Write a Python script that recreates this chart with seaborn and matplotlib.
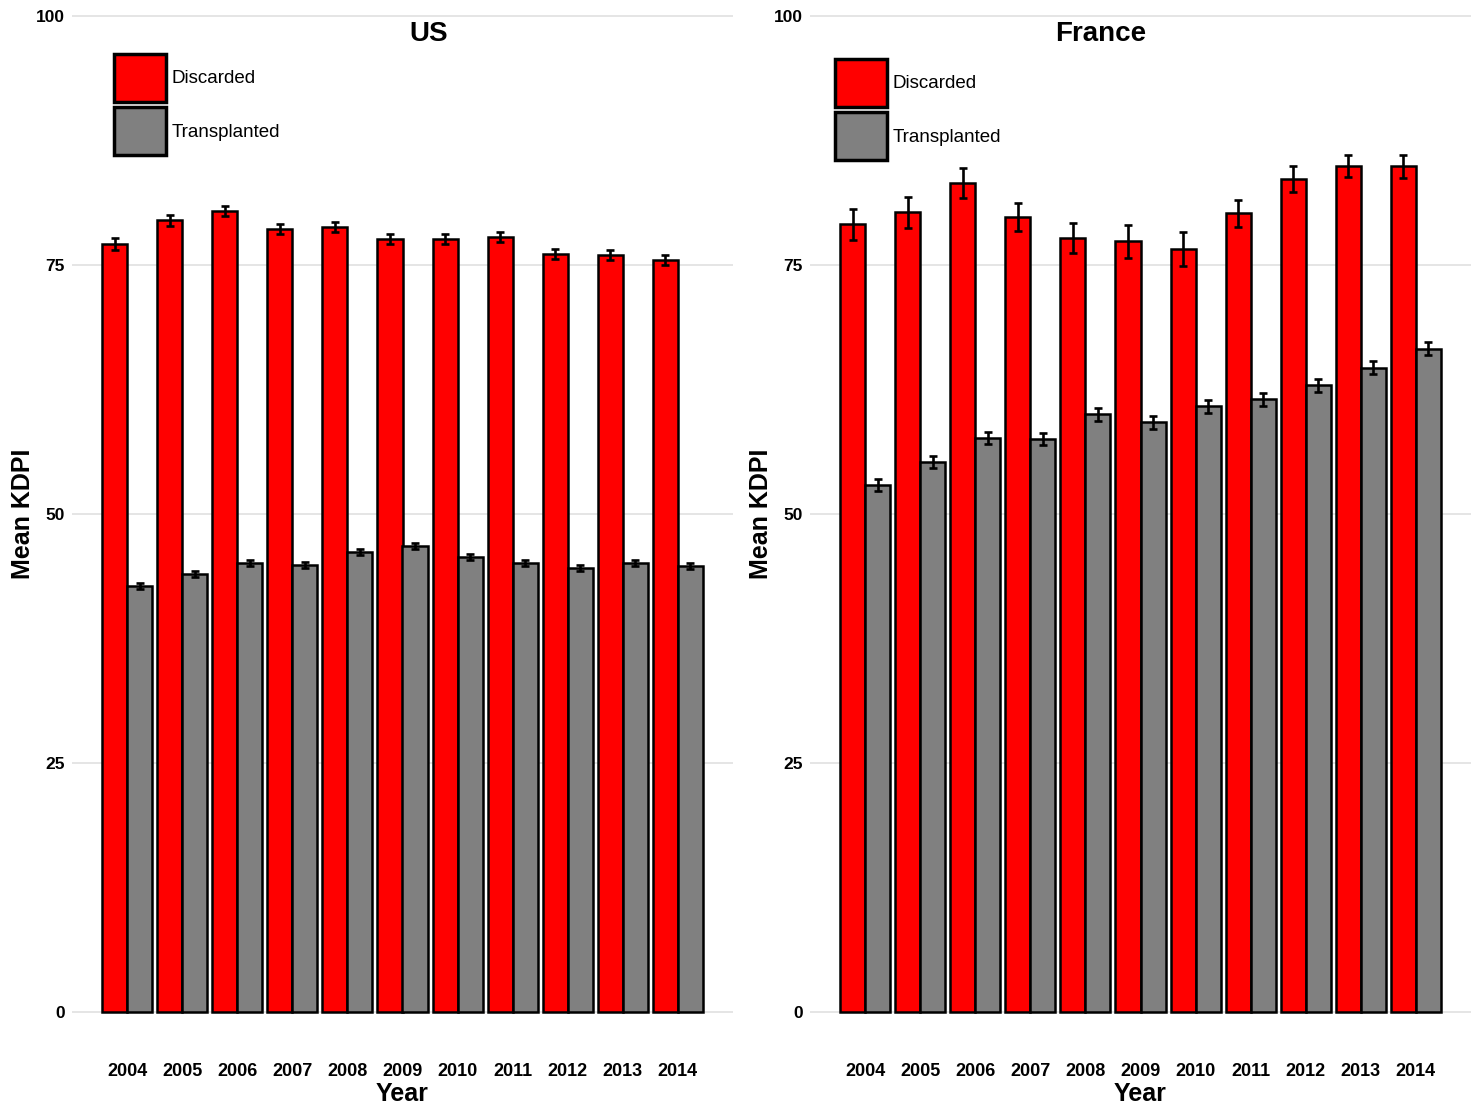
import numpy as np
import pandas as pd
import matplotlib
matplotlib.use("Agg")
import matplotlib.pyplot as plt
from matplotlib.patches import Patch
import seaborn as sns

YEARS = ['2004', '2005', '2006', '2007', '2008', '2009',
         '2010', '2011', '2012', '2013', '2014']
GROUPS = ['Discarded', 'Transplanted']
COLORS = {'Discarded': '#ff0000', 'Transplanted': '#808080'}

# US mean KDPI
us_discarded = [77.1, 79.5, 80.4, 78.6, 78.8, 77.6, 77.6, 77.8, 76.1, 76.0, 75.5]
us_discarded_err = [0.57, 0.55, 0.52, 0.53, 0.53, 0.52, 0.52, 0.50, 0.52, 0.53, 0.52]
us_transplanted = [42.8, 44.0, 45.1, 44.9, 46.2, 46.8, 45.7, 45.1, 44.6, 45.1, 44.8]
us_transplanted_err = [0.30, 0.30, 0.30, 0.30, 0.30, 0.30, 0.30, 0.30, 0.30, 0.30, 0.30]

# France mean KDPI
fr_discarded = [79.1, 80.3, 83.2, 79.8, 77.7, 77.4, 76.6, 80.2, 83.6, 84.9, 84.9]
fr_discarded_err = [1.57, 1.57, 1.49, 1.40, 1.49, 1.65, 1.69, 1.37, 1.32, 1.10, 1.19]
fr_transplanted = [52.9, 55.2, 57.6, 57.5, 60.0, 59.2, 60.8, 61.5, 62.9, 64.7, 66.6]
fr_transplanted_err = [0.64, 0.62, 0.62, 0.62, 0.62, 0.62, 0.67, 0.64, 0.64, 0.62, 0.64]

W, H = 1477, 1106


def draw_panel(fig, rect, disc, trans, disc_err, trans_err, title, title_x, legend_xy):
    ax = fig.add_axes(rect)
    df = pd.DataFrame({
        'year': YEARS * 2,
        'kdpi': disc + trans,
        'group': ['Discarded'] * len(YEARS) + ['Transplanted'] * len(YEARS),
    })
    sns.barplot(data=df, x='year', y='kdpi', hue='group', order=YEARS,
                hue_order=GROUPS, palette=COLORS, width=0.91, gap=0,
                errorbar=None, edgecolor='black', linewidth=1.8,
                saturation=1, legend=False, ax=ax, zorder=3)

    # error bars at the centre of each drawn bar
    for cont, err in zip(ax.containers, [disc_err, trans_err]):
        xs = [b.get_x() + b.get_width() / 2 for b in cont]
        ys = [b.get_height() for b in cont]
        ax.errorbar(xs, ys, yerr=err, fmt='none', ecolor='black',
                    elinewidth=1.9, capsize=3, capthick=1.9, zorder=5)

    ax.set_xlim(-1, 11)
    ax.set_ylim(-4.32, 100.4)
    ax.set_yticks([0, 25, 50, 75, 100])
    ax.yaxis.grid(True, color='#e3e3e3', lw=1.3, zorder=0)
    ax.xaxis.grid(False)
    sns.despine(ax=ax, left=True, bottom=True)
    ax.tick_params(axis='both', length=3, width=0.8, color='#999999',
                   labelcolor='black')
    ax.tick_params(axis='y', labelsize=12.5, pad=2)
    ax.tick_params(axis='x', labelsize=13, pad=3)
    for lab in ax.get_yticklabels() + ax.get_xticklabels():
        lab.set_fontweight('bold')

    ax.set_ylabel('Mean KDPI', fontsize=18, fontweight='bold', va='center',
                  color='black')
    ax.yaxis.set_label_coords(-0.074, 0.519)
    ax.set_xlabel('Year', fontsize=18, fontweight='bold', va='top',
                  color='black')
    ax.xaxis.set_label_coords(0.5, -0.026)

    ax.text(title_x, 0.979, title, transform=ax.transAxes, ha='center',
            va='center', fontsize=20, fontweight='bold', color='black')

    handles = [Patch(facecolor=COLORS[g], edgecolor='black', linewidth=2.5, label=g)
               for g in GROUPS]
    leg = ax.legend(handles=handles, loc='upper left', frameon=False,
                    bbox_to_anchor=(legend_xy[0] / W, 1 - legend_xy[1] / H),
                    bbox_transform=fig.transFigure, borderaxespad=0, borderpad=0,
                    handlelength=2.75, handleheight=3.55, labelspacing=0.3,
                    handletextpad=0.3, fontsize=13.5)
    for t in leg.get_texts():
        t.set_color('black')
    return ax


def main():
    sns.set_style('white')
    plt.rcParams['font.family'] = ['Liberation Sans', 'DejaVu Sans']

    fig = plt.figure(figsize=(W / 100, H / 100), dpi=100)
    top, bottom = 12, 1055
    h = (bottom - top) / H
    y0 = 1 - bottom / H

    draw_panel(fig, [72 / W, y0, (733 - 72) / W, h],
               us_discarded, us_transplanted, us_discarded_err, us_transplanted_err,
               'US', 0.54, (114, 54))
    draw_panel(fig, [810 / W, y0, (1471 - 810) / W, h],
               fr_discarded, fr_transplanted, fr_discarded_err, fr_transplanted_err,
               'France', 0.44, (835, 59))

    fig.savefig('out.png', dpi=100)


if __name__ == '__main__':
    main()
